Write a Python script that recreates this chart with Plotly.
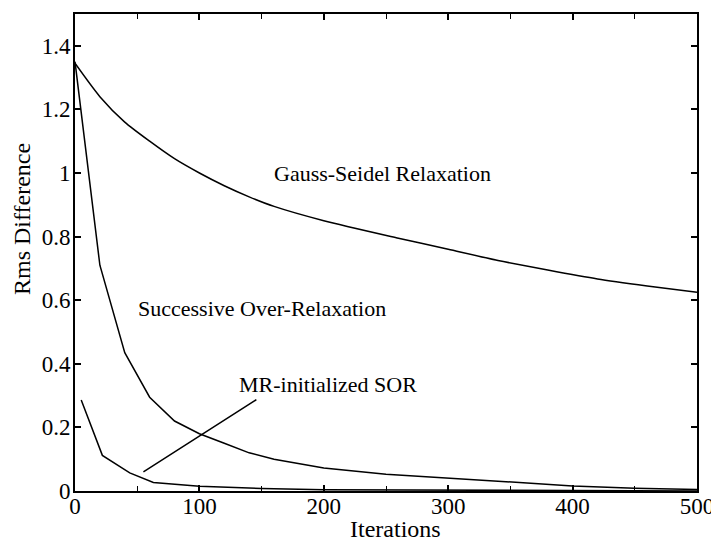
import plotly.graph_objects as go

# Data
gs_iter = [0, 20, 40, 60, 80, 100, 120, 140, 160, 200, 260, 300, 340, 380, 420, 460, 500]
gs_rms = [1.345, 1.24, 1.16, 1.10, 1.045, 1.0, 0.96, 0.925, 0.895, 0.85, 0.795, 0.76, 0.725, 0.695, 0.667, 0.645, 0.625]

sor_iter = [0, 20, 40, 60, 80, 100, 120, 140, 160, 200, 250, 300, 350, 400, 450, 500]
sor_rms = [1.35, 0.71, 0.435, 0.295, 0.22, 0.18, 0.15, 0.12, 0.10, 0.072, 0.053, 0.04, 0.027, 0.016, 0.009, 0.005]

mr_iter = [5, 22, 44, 63, 100, 150, 200, 250, 300, 400, 500]
mr_rms = [0.286, 0.112, 0.057, 0.027, 0.015, 0.008, 0.004, 0.003, 0.002, 0.001, 0.0]

x_tickvals = [0, 100, 200, 300, 400, 500]
x_ticktext = ["0", "100", "200", "300", "400", "500"]
y_tickvals = [0, 0.2, 0.4, 0.6, 0.8, 1.0, 1.2, 1.4]
y_ticktext = ["0", "0.2", "0.4", "0.6", "0.8", "1", "1.2", "1.4"]

FONT = "Liberation Serif"
line_style = dict(color="black", width=1.5)
label_font = dict(family=FONT, size=22, color="black")

# page body has an 8px default margin; size the figure to fit the 719x542 window
OFF = 8
W, H = 719 - OFF, 542 - OFF
ML, MR, MT, MB = 75 - OFF, 22, 14 - OFF, 51
plot_w = W - ML - MR
plot_h = H - MT - MB


def px_to_paper(px, py):
    return (px - OFF - ML) / plot_w, (H - MB - (py - OFF)) / plot_h


fig = go.Figure()
fig.add_trace(go.Scatter(x=gs_iter, y=gs_rms, mode="lines", line=dict(line_style, shape="spline", smoothing=0.7),
                         name="Gauss-Seidel Relaxation"))
fig.add_trace(go.Scatter(x=sor_iter, y=sor_rms, mode="lines", line=line_style,
                         name="Successive Over-Relaxation"))
fig.add_trace(go.Scatter(x=mr_iter, y=mr_rms, mode="lines", line=line_style,
                         name="MR-initialized SOR"))

# Text labels on the plot
fig.add_annotation(x=158, y=1.0, text="Gauss-Seidel Relaxation", showarrow=False,
                   xanchor="left", yanchor="middle", font=label_font)
fig.add_annotation(x=49, y=0.575, text="Successive Over-Relaxation", showarrow=False,
                   xanchor="left", yanchor="middle", font=label_font)
fig.add_annotation(x=55, y=0.06, ax=147, ay=0.29, axref="x", ayref="y",
                   text="", showarrow=True, arrowhead=0, arrowwidth=1.5, arrowcolor="black")
fig.add_annotation(x=130, y=0.335, text="MR-initialized SOR", showarrow=False,
                   xanchor="left", yanchor="middle", font=label_font)

# Axis titles
tx, ty = px_to_paper(395, 529)
fig.add_annotation(xref="paper", yref="paper", x=tx, y=ty, text="Iterations",
                   showarrow=False, xanchor="center", yanchor="middle",
                   font=dict(family=FONT, size=24, color="black"))
rx, ry = px_to_paper(22, 219)
fig.add_annotation(xref="paper", yref="paper", x=rx, y=ry,
                   text="Rms Difference", textangle=-90, showarrow=False,
                   xanchor="center", yanchor="middle",
                   font=dict(family=FONT, size=24, color="black"))

fig.update_layout(
    width=W, height=H,
    margin=dict(l=ML, r=MR, t=MT, b=MB, autoexpand=False),
    paper_bgcolor="white", plot_bgcolor="white",
    showlegend=False,
    font=dict(family=FONT, size=23, color="black"),
)

fig.update_xaxes(range=[0, 500], tickvals=x_tickvals, ticktext=x_ticktext,
                 ticks="inside", ticklen=6, tickwidth=1.5, tickcolor="black",
                 ticklabelstandoff=-7,
                 minor=dict(tickvals=[50, 150, 250, 350, 450], ticks="inside", ticklen=5,
                            tickwidth=1.2, tickcolor="black"),
                 showline=True, linecolor="black", linewidth=2, mirror="ticks",
                 showgrid=False, zeroline=False, automargin=False)
fig.update_yaxes(range=[0, 1.5], tickvals=y_tickvals, ticktext=y_ticktext,
                 ticks="inside", ticklen=6, tickwidth=1.5, tickcolor="black",
                 ticklabelstandoff=-2,
                 showline=True, linecolor="black", linewidth=2, mirror="ticks",
                 showgrid=False, zeroline=False, automargin=False)

fig.write_html("out.html")
